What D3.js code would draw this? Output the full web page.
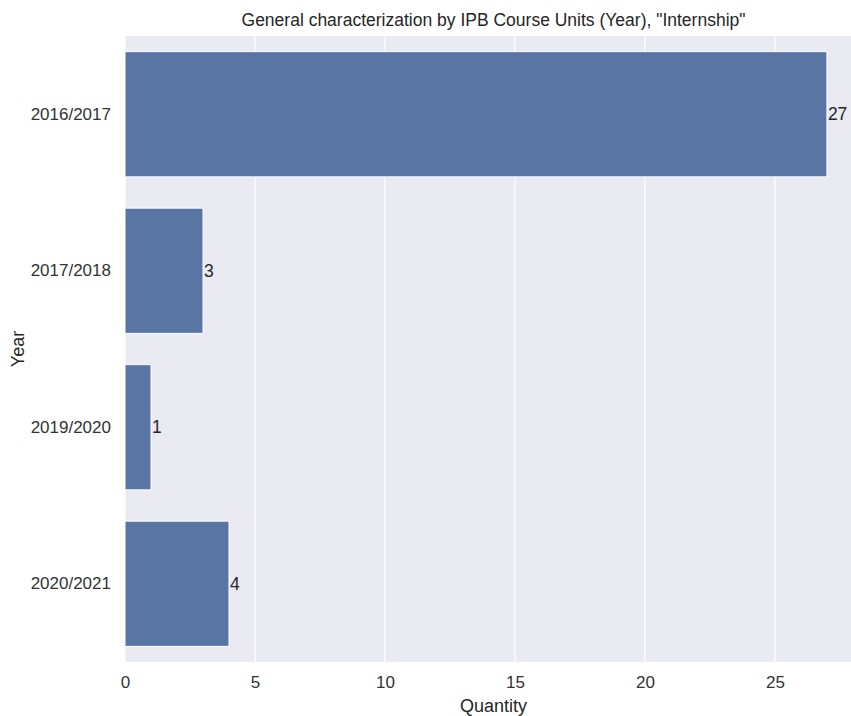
<!DOCTYPE html>
<html lang="en">
<head>
<meta charset="utf-8">
<title>Internship by year</title>
<script src="https://cdn.jsdelivr.net/npm/d3@7"></script>
<style>
body { margin: 0; background: #fff; }
text { font-family: Arial, "Liberation Sans", sans-serif; fill: #262626; }
.tick text { font-size: 17px; fill: #333; }
.domain { display: none; }
.tick line { display: none; }
.grid line { stroke: #fff; stroke-width: 1.2px; }
.bar { fill: #5975a4; stroke: #fff; stroke-width: 1px; }
</style>
</head>
<body>
<script>
// data
var years = ["2016/2017", "2017/2018", "2019/2020", "2020/2021"];
var quantity = [27, 3, 1, 4];
var xTicks = [0, 5, 10, 15, 20, 25];

var w = 851, h = 716;
// note: "top" is taken by window.top, so use plotTop
var plotLeft = 125, plotTop = 36, plotW = 737, plotH = 626;

var svg = d3.select("body").append("svg")
    .attr("width", w)
    .attr("height", h);

var x = d3.scaleLinear()
    .domain([0, d3.max(quantity) * 1.05])
    .range([plotLeft, plotLeft + plotW]);

var y = d3.scaleBand()
    .domain(years)
    .range([plotTop, plotTop + plotH])
    .paddingInner(0.2)
    .paddingOuter(0.1);

// background
svg.append("rect")
    .attr("x", plotLeft).attr("y", plotTop)
    .attr("width", plotW).attr("height", plotH)
    .attr("fill", "#eaeaf2");

// vertical grid
svg.append("g").attr("class", "grid")
    .selectAll("line")
    .data(xTicks)
    .enter().append("line")
    .attr("x1", function(d){ return x(d); })
    .attr("x2", function(d){ return x(d); })
    .attr("y1", plotTop).attr("y2", plotTop + plotH);

// bars
var rows = years.map(function(yr, i){ return {year: yr, value: quantity[i]}; });

svg.selectAll("rect.bar")
    .data(rows)
    .enter().append("rect")
    .attr("class", "bar")
    .attr("x", x(0))
    .attr("y", function(d){ return y(d.year); })
    .attr("width", function(d){ return x(d.value) - x(0); })
    .attr("height", y.bandwidth());

// value labels
svg.selectAll("text.val")
    .data(rows)
    .enter().append("text")
    .attr("class", "val")
    .attr("x", function(d){ return x(d.value) + 1; })
    .attr("y", function(d){ return y(d.year) + y.bandwidth()/2; })
    .attr("dy", "0.35em")
    .style("font-size", "17.5px")
    .text(function(d){ return d.value; });

// axes
svg.append("g")
    .attr("transform", "translate(0," + (plotTop + plotH) + ")")
    .call(d3.axisBottom(x).tickValues(xTicks).tickSize(0).tickPadding(14));

svg.append("g")
    .attr("transform", "translate(" + plotLeft + ",0)")
    .call(d3.axisLeft(y).tickSize(0).tickPadding(14));

// title and axis labels
svg.append("text")
    .attr("x", plotLeft + plotW/2)
    .attr("y", 26)
    .attr("text-anchor", "middle")
    .style("font-size", "17.5px")
    .text('General characterization by IPB Course Units (Year), "Internship"');

svg.append("text")
    .attr("x", plotLeft + plotW/2)
    .attr("y", 712)
    .attr("text-anchor", "middle")
    .style("font-size", "18px")
    .text("Quantity");

svg.append("text")
    .attr("transform", "translate(24," + (plotTop + plotH/2) + ") rotate(-90)")
    .attr("text-anchor", "middle")
    .style("font-size", "18px")
    .text("Year");
</script>
</body>
</html>
